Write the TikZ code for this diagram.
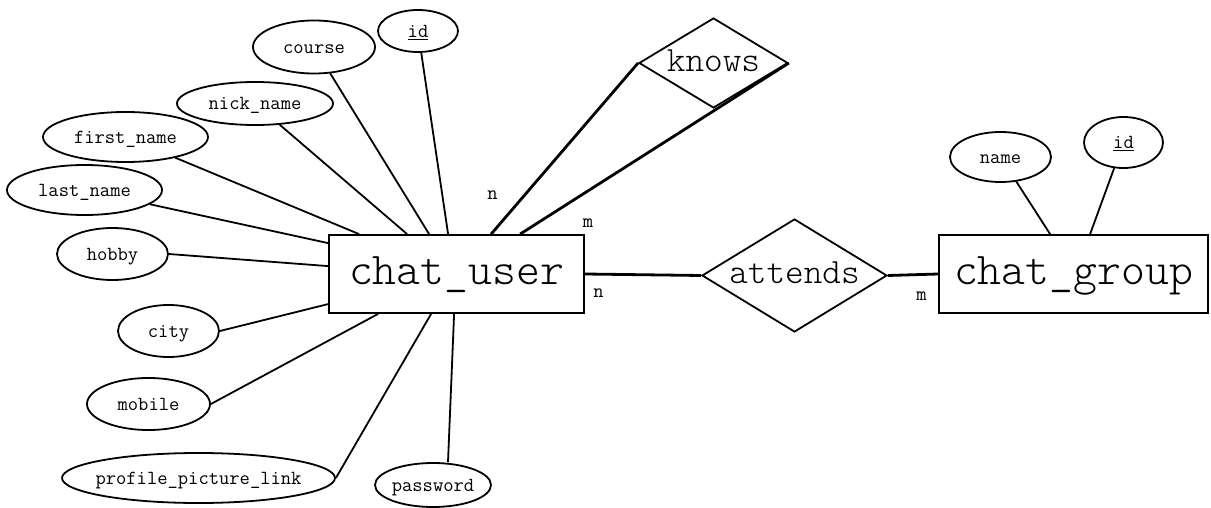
\documentclass[tikz,border=0pt]{standalone}
\usepackage{fontspec}
\newfontfamily\thintt{Latin Modern Mono Light}
\usetikzlibrary{shapes.geometric,calc}

% text whose width does not grow the shape; baseline placed by a strut
\newcommand\shapetext[2]{\makebox[0pt]{\rule{0pt}{#1}\smash{#2}}}

\begin{document}
\begin{tikzpicture}[x=1pt,y=-1pt,
  attr/.style={ellipse, draw, line width=1.8pt, inner sep=0pt,
    font=\ttfamily\fontsize{20}{20}\selectfont},
  entity/.style={rectangle, draw, line width=1.8pt, inner sep=0pt,
    font=\thintt\fontsize{45.5}{45.5}\selectfont},
  rel/.style={diamond, draw, line width=1.8pt, inner sep=0pt,
    font=\thintt\fontsize{35.5}{35.5}\selectfont},
  card/.style={font=\ttfamily\fontsize{20}{20}\selectfont, inner sep=0pt, anchor=base},
  link/.style={line width=1.8pt},
  rlink/.style={line width=2.8pt},
]
\fill[white] (0,0) rectangle (1211,508);
\useasboundingbox (0,0) rectangle (1211,508);

% entities
\node[entity, minimum width=255, minimum height=78] (cu) at (456.5,274) {\shapetext{0.48em}{chat\_user}};
\node[entity, minimum width=269, minimum height=78] (cg) at (1073.5,274) {\shapetext{0.44em}{chat\_group}};

% relationships
\node[rel, minimum width=185, minimum height=113] (at) at (794.5,275.5) {\shapetext{0.44em}{attends}};
\node[rel, minimum width=149, minimum height=90] (kn) at (713.5,63) {\shapetext{0.48em}{knows}};

% attributes of chat_user
\node[attr, minimum width=122, minimum height=53] (course) at (314,47) {\shapetext{0.65em}{course}};
\node[attr, minimum width=80, minimum height=42] (uid) at (418,31) {\shapetext{0.65em}{\underline{id}}};
\node[attr, minimum width=156, minimum height=43] (nick) at (255,103.5) {\shapetext{0.65em}{nick\_name}};
\node[attr, minimum width=165, minimum height=50] (first) at (125.5,137) {\shapetext{0.65em}{first\_name}};
\node[attr, minimum width=155, minimum height=50] (last) at (84.5,190) {\shapetext{0.65em}{last\_name}};
\node[attr, minimum width=111, minimum height=52] (hobby) at (112.5,254) {\shapetext{0.65em}{hobby}};
\node[attr, minimum width=101, minimum height=52] (city) at (168.5,331) {\shapetext{0.65em}{city}};
\node[attr, minimum width=123, minimum height=52] (mobile) at (148.5,404) {\shapetext{0.65em}{mobile}};
\node[attr, minimum width=273, minimum height=50] (pic) at (198.5,478) {\shapetext{0.65em}{profile\_picture\_link}};
\node[attr, minimum width=116, minimum height=44] (pw) at (433,485) {\shapetext{0.65em}{password}};

% attributes of chat_group
\node[attr, minimum width=101, minimum height=50] (gname) at (1000.5,157) {\shapetext{0.65em}{name}};
\node[attr, minimum width=79, minimum height=51] (gid) at (1123.5,142.5) {\shapetext{0.65em}{\underline{id}}};

% attribute links
\draw[link] (course) -- ($(cu.north west)+(101,0)$);
\draw[link] (uid) -- ($(cu.north west)+(120,0)$);
\draw[link] (nick) -- ($(cu.north west)+(79,0)$);
\draw[link] (first) -- ($(cu.north west)+(31,0)$);
\draw[link] (last) -- ($(cu.north west)+(0,9)$);
\draw[link] (hobby.east) -- ($(cu.north west)+(0,32)$);
\draw[link] (city.east) -- ($(cu.north west)+(0,70)$);
\draw[link] (mobile.east) -- ($(cu.south west)+(50,0)$);
\draw[link] (pic.east) -- ($(cu.south west)+(103,0)$);
\draw[link] ($(pw.north)+(15,0)$) -- ($(cu.south west)+(126,0)$);
\draw[link] (gname) -- ($(cg.north west)+(112,0)$);
\draw[link] (gid) -- ($(cg.north west)+(152,0)$);

% relationship links
\draw[rlink] ($(cu.north west)+(163,0)$) -- (kn.west);
\draw[rlink] ($(cu.north west)+(192,0)$) -- (kn.east);
\draw[rlink] (cu.east) -- (at.west);
\draw[rlink] (at.east) -- (cg.west);

% cardinalities
\node[card] (c1) at (492.5,200) {n};
\node[card] (c2) at (588,228) {m};
\node[card] (c3) at (598.5,297) {n};
\node[card] (c4) at (921.5,300) {m};
\end{tikzpicture}
\end{document}
